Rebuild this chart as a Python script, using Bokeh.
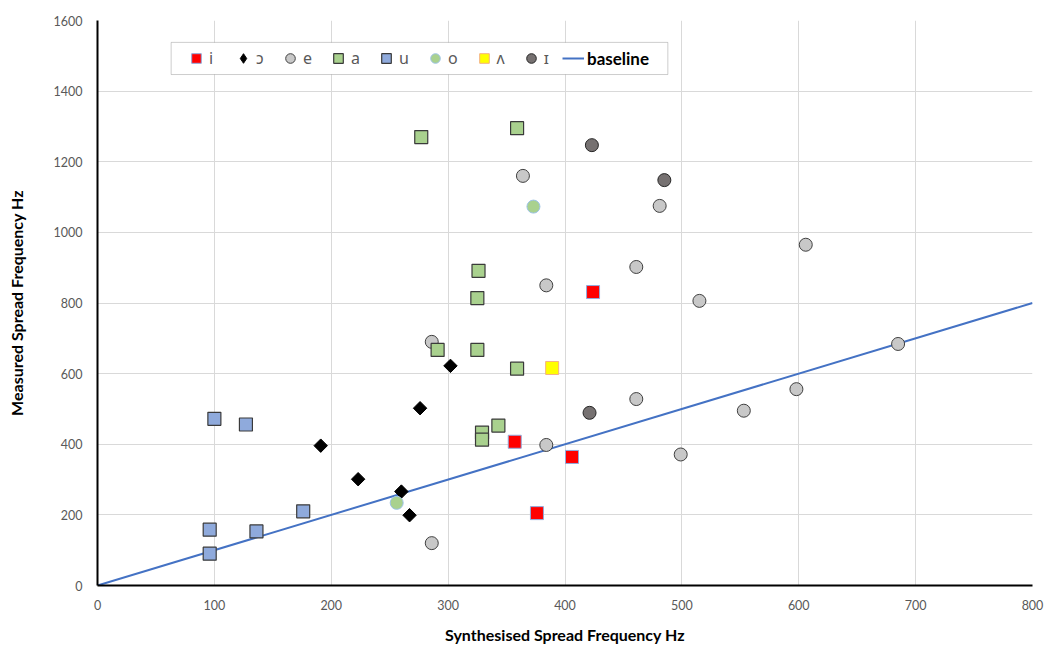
import math
from bokeh.plotting import figure
from bokeh.models import Legend, LegendItem, Range1d, BoxAnnotation
from bokeh.embed import file_html
from bokeh.resources import INLINE

# ---- data (Synthesised Hz, Measured Hz) ----
i_x = [424, 357, 406, 376]
i_y = [831, 407, 364, 205]
oo_x = [191, 223, 260, 267, 276, 302]          # ɔ
oo_y = [396, 301, 266, 199, 502, 622]
e_x = [364, 481, 384, 461, 286, 606, 515, 685, 461, 598, 553, 384, 499, 286]
e_y = [1160, 1075, 850, 902, 690, 965, 806, 684, 528, 556, 495, 398, 371, 120]
a_x = [277, 359, 326, 325, 291, 325, 359, 343, 329, 329]
a_y = [1270, 1295, 891, 814, 667, 667, 614, 453, 433, 413]
u_x = [100, 127, 96, 136, 96, 176]
u_y = [472, 456, 158, 153, 90, 210]
o_x = [373, 256]
o_y = [1073, 234]
v_x = [389]                                     # ʌ
v_y = [616]
ii_x = [423, 485, 421]                          # ɪ
ii_y = [1247, 1148, 489]
base_x = [0, 800]
base_y = [0, 800]

x_ticks = [0, 100, 200, 300, 400, 500, 600, 700, 800]
y_ticks = [0, 200, 400, 600, 800, 1000, 1200, 1400, 1600]

FONT = "Lato"

p = figure(frame_width=935, frame_height=565, output_backend="svg", toolbar_location=None,
           x_range=Range1d(0, 800), y_range=Range1d(0, 1600),
           min_border_left=97, min_border_right=12, min_border_top=20, min_border_bottom=61)
p.outline_line_color = None
p.background_fill_color = "white"

p.xaxis.ticker = x_ticks
p.yaxis.ticker = y_ticks
p.xgrid.ticker = x_ticks
p.ygrid.ticker = y_ticks
p.grid.grid_line_color = "#D9D9D9"
p.grid.grid_line_width = 1

for ax in (p.xaxis[0], p.yaxis[0]):
    ax.axis_line_color = "black"
    ax.axis_line_width = 2
    ax.major_tick_line_color = None
    ax.minor_tick_line_color = None
    ax.major_label_text_font = FONT
    ax.major_label_text_font_size = "12.5px"
    ax.major_label_text_color = "#595959"
    ax.axis_label_text_font = FONT
    ax.axis_label_text_font_size = "16px"
    ax.axis_label_text_font_style = "bold"
    ax.axis_label_text_color = "black"

p.xaxis.axis_label = "Synthesised Spread Frequency Hz"
p.yaxis.axis_label = "Measured Spread Frequency Hz"
p.xaxis.major_label_standoff = 8
p.xaxis.axis_label_standoff = 12
p.yaxis.major_label_standoff = 9
p.yaxis.axis_label_standoff = 25

# baseline
r_base = p.line(base_x, base_y, line_color="#4472C4", line_width=2)

r_i = p.scatter(i_x, i_y, marker="square", size=13, fill_color="#FF0000",
                line_color="#8FAADC", line_width=1)
# diamond glyph used for the legend (legend ignores marker rotation); hidden under the rotated squares
r_oo_leg = p.scatter(oo_x, oo_y, marker="diamond", size=11,
                     fill_color="black", line_color="black", line_width=1)
r_oo = p.scatter(oo_x, oo_y, marker="square", angle=math.pi / 4, size=9.5,
                 fill_color="black", line_color="black", line_width=1)
r_e = p.scatter(e_x, e_y, marker="circle", size=13, fill_color="#C8C8C8",
                line_color="#404040", line_width=1)
r_a = p.scatter(a_x, a_y, marker="square", size=13, fill_color="#A9D18E",
                line_color="#3A3A3A", line_width=1.2)
r_u = p.scatter(u_x, u_y, marker="square", size=13, fill_color="#8FAADC",
                line_color="#3A3A3A", line_width=1.2)
r_o = p.scatter(o_x, o_y, marker="circle", size=13, fill_color="#A9D18E",
                line_color="#9DC3E6", line_width=1)
r_v = p.scatter(v_x, v_y, marker="square", size=13, fill_color="#FFFF00",
                line_color="#F4B183", line_width=1)
r_ii = p.scatter(ii_x, ii_y, marker="circle", size=13, fill_color="#767171",
                 line_color="#262626", line_width=1)

# legend frame
box = BoxAnnotation(left=63, right=488, bottom=1447, top=1538,
                    fill_color="white", fill_alpha=1.0,
                    line_color="#595959", line_width=1, level="annotation")
p.add_layout(box)

leg1 = Legend(items=[
    LegendItem(label="i", renderers=[r_i]),
    LegendItem(label="ɔ", renderers=[r_oo_leg]),
    LegendItem(label="e", renderers=[r_e]),
    LegendItem(label="a", renderers=[r_a]),
    LegendItem(label="u", renderers=[r_u]),
    LegendItem(label="o", renderers=[r_o]),
    LegendItem(label="ʌ", renderers=[r_v]),
    LegendItem(label="ɪ", renderers=[r_ii]),
], orientation="horizontal", location=(83, 511),
    glyph_width=24, glyph_height=24, label_standoff=1, spacing=14, label_width=8,
    padding=4, margin=0, border_line_alpha=0, background_fill_alpha=0,
    label_text_font="Noto Sans", label_text_font_size="16px", label_text_color="#595959")
leg2 = Legend(items=[LegendItem(label="baseline", renderers=[r_base])],
              orientation="horizontal", location=(461, 511),
              glyph_width=22, glyph_height=24, label_standoff=3, label_width=8,
              padding=4, margin=0, border_line_alpha=0, background_fill_alpha=0,
              label_text_font=FONT, label_text_font_size="17px",
              label_text_font_style="bold", label_text_color="black")
p.add_layout(leg1, "center")
p.add_layout(leg2, "center")

open("out.html", "w").write(file_html(p, INLINE))
